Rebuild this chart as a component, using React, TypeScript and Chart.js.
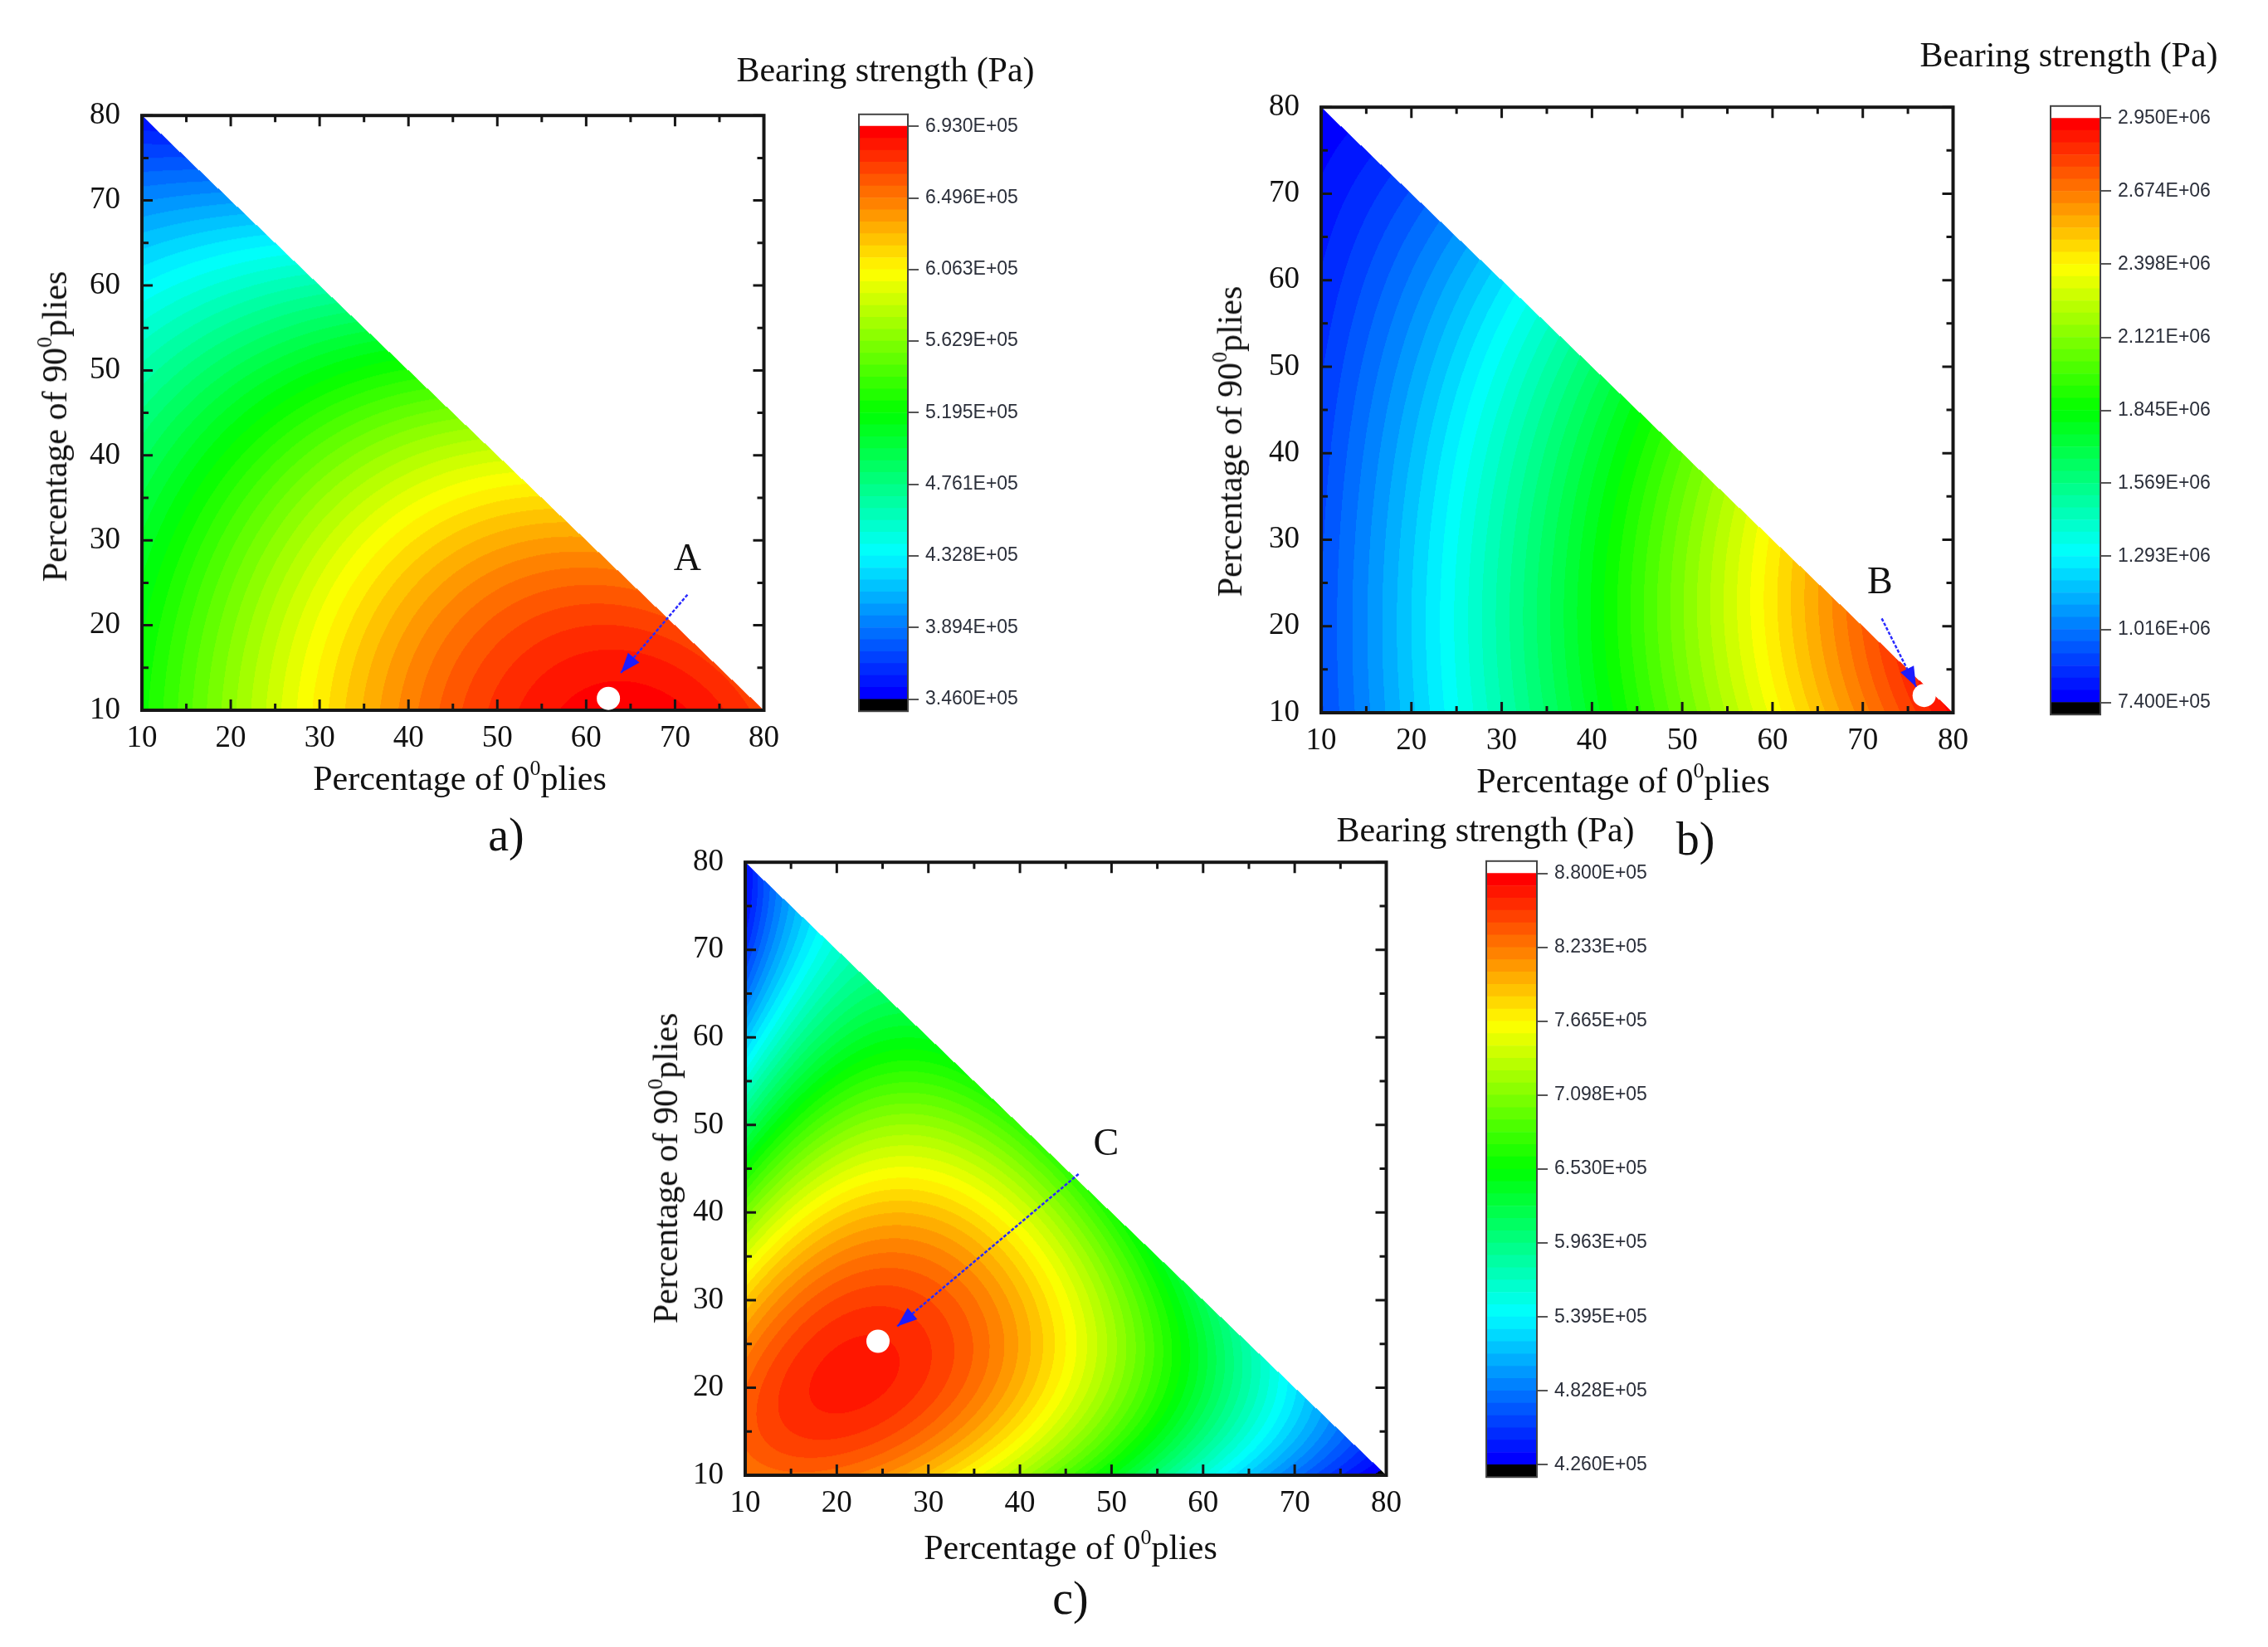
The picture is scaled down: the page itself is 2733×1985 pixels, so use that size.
import React, { useEffect, useRef } from "react";
import { Chart, registerables } from "chart.js";

Chart.register(...registerables);

// ------------------------------------------------------------------ data
const AXIS_TICKS = [10, 20, 30, 40, 50, 60, 70, 80];
const MINOR_TICKS = [15, 25, 35, 45, 55, 65, 75];
// grid on which the bearing strength was read (x: % of 0° plies, y: % of 90° plies)
const GRID_X = [10, 20, 30, 40, 50, 60, 70, 80];
const GRID_Y = [10, 20, 30, 40, 50, 60, 70, 80];

// Bearing strength in units of 1e5 Pa; row j is y = GRID_Y[j], entries are x = GRID_X[0..]
const A_ROWS = [
  [5.26, 5.61, 6.17, 6.48, 6.69, 6.86, 6.83, 6.72],
  [5.2, 5.54, 6.06, 6.41, 6.62, 6.72, 6.62],
  [5.06, 5.37, 5.82, 6.17, 6.37, 6.34],
  [4.92, 5.2, 5.47, 5.75, 5.89],
  [4.71, 4.92, 5.13, 5.26],
  [4.33, 4.5, 4.64],
  [3.91, 4.05],
  [3.53],
];
const B_ROWS = [
  [9.17, 11.6, 15.14, 17.79, 20.22, 23.98, 26.63, 29.28],
  [9.39, 11.71, 15.36, 18.01, 20.66, 24.31, 26.85],
  [9.28, 11.6, 15.14, 18.01, 20.66, 24.53],
  [9.06, 11.16, 14.69, 17.57, 19.78],
  [8.73, 10.6, 13.81, 16.68],
  [8.51, 10.05, 12.26],
  [8.06, 8.95],
  [7.62],
];
const C_ROWS = [
  [8.21, 8.44, 7.8, 7.1, 6.45, 5.68, 4.9, 4.26],
  [8.16, 8.75, 8.53, 7.89, 7.07, 6.17, 5.17],
  [7.89, 8.57, 8.53, 8.03, 7.07, 5.94],
  [7.07, 7.8, 7.98, 7.8, 6.76],
  [5.99, 6.62, 7.07, 7.07],
  [5.26, 5.99, 6.39],
  [4.8, 5.4],
  [4.35],
];

// colour-bar ticks (1e5 Pa) and their printed labels, bottom to top
const A_BAR_VALUES = [3.46, 3.894, 4.328, 4.761, 5.195, 5.629, 6.063, 6.496, 6.93];
const A_BAR_LABELS = ["3.460E+05", "3.894E+05", "4.328E+05", "4.761E+05", "5.195E+05", "5.629E+05", "6.063E+05", "6.496E+05", "6.930E+05"];
const B_BAR_VALUES = [7.4, 10.16, 12.93, 15.69, 18.45, 21.21, 23.98, 26.74, 29.5];
const B_BAR_LABELS = ["7.400E+05", "1.016E+06", "1.293E+06", "1.569E+06", "1.845E+06", "2.121E+06", "2.398E+06", "2.674E+06", "2.950E+06"];
const C_BAR_VALUES = [4.26, 4.828, 5.395, 5.963, 6.53, 7.098, 7.665, 8.233, 8.8];
const C_BAR_LABELS = ["4.260E+05", "4.828E+05", "5.395E+05", "5.963E+05", "6.530E+05", "7.098E+05", "7.665E+05", "8.233E+05", "8.800E+05"];

// optimum markers: [x, y]; arrows: [from, to]; letter positions
const A_DOT = [62.5, 11.4];
const A_ARROW = [[71.4, 23.6], [63.9, 14.4]];
const A_LETTER = [71.4, 27.7];
const B_DOT = [76.8, 12.0];
const B_ARROW = [[72.1, 20.9], [75.9, 13.0]];
const B_LETTER = [71.9, 25.0];
const C_DOT = [24.5, 25.3];
const C_ARROW = [[46.4, 44.4], [26.6, 27.0]];
const C_LETTER = [49.4, 47.7];

const N_LEVELS = 48;

// ------------------------------------------------------------------ helpers
const SERIF = '"Liberation Serif", "Times New Roman", serif';
const SANS = '"Liberation Sans", Arial, sans-serif';

function rainbow(t: number): number[] {
  let r = 0, g = 0, b = 0;
  if (t < 0.25) { r = 0; g = 4 * t; b = 1; }
  else if (t < 0.5) { r = 0; g = 1; b = 1 - 4 * (t - 0.25); }
  else if (t < 0.75) { r = 4 * (t - 0.5); g = 1; b = 0; }
  else { r = 1; g = 1 - 4 * (t - 0.75); b = 0; }
  return [Math.round(r * 255), Math.round(g * 255), Math.round(b * 255)];
}
const PALETTE = Array.from({ length: N_LEVELS }, (_, k) => rainbow(k / (N_LEVELS - 1)));
const cssColor = (c: number[]) => `rgb(${c[0]},${c[1]},${c[2]})`;

function basis(x: number, y: number) {
  const u = (x - 10) / 70, w = (y - 10) / 70;
  return [1, u, w, u * u, u * w, w * w, u * u * u, u * u * w, u * w * w, w * w * w];
}
// cubic response surface through the values read on the grid
function fitSurface(rows: number[][]) {
  const n = 10;
  const M = Array.from({ length: n }, () => new Array(n + 1).fill(0));
  rows.forEach((row, j) =>
    row.forEach((v, i) => {
      const b = basis(GRID_X[i], GRID_Y[j]);
      for (let r = 0; r < n; r++) {
        for (let c = 0; c < n; c++) M[r][c] += b[r] * b[c];
        M[r][n] += b[r] * v;
      }
    })
  );
  for (let c = 0; c < n; c++) {
    let p = c;
    for (let r = c + 1; r < n; r++) if (Math.abs(M[r][c]) > Math.abs(M[p][c])) p = r;
    const tmp = M[c]; M[c] = M[p]; M[p] = tmp;
    for (let r = 0; r < n; r++) {
      if (r === c) continue;
      const f = M[r][c] / M[c][c];
      for (let k = c; k <= n; k++) M[r][k] -= f * M[c][k];
    }
  }
  return M.map((row, i) => row[n] / row[i]);
}
function evalSurface(coef: number[], x: number, y: number) {
  const b = basis(x, y);
  let s = 0;
  for (let i = 0; i < b.length; i++) s += coef[i] * b[i];
  return s;
}

type Rect = { l: number; t: number; r: number; b: number };
type PanelCfg = {
  plot: Rect;
  bar: Rect;
  rows: number[][];
  barValues: number[];
  barLabels: string[];
  dot: number[];
  arrow: number[][];
  letterPos: number[];
  letter: string;
};

const PANELS: PanelCfg[] = [
  { plot: { l: 171, t: 139, r: 920, b: 856 }, bar: { l: 1034, t: 138, r: 1094, b: 857 }, rows: A_ROWS, barValues: A_BAR_VALUES, barLabels: A_BAR_LABELS, dot: A_DOT, arrow: A_ARROW, letterPos: A_LETTER, letter: "A" },
  { plot: { l: 1592, t: 129, r: 2353, b: 859 }, bar: { l: 2470, t: 128, r: 2531, b: 861 }, rows: B_ROWS, barValues: B_BAR_VALUES, barLabels: B_BAR_LABELS, dot: B_DOT, arrow: B_ARROW, letterPos: B_LETTER, letter: "B" },
  { plot: { l: 898, t: 1039, r: 1670, b: 1778 }, bar: { l: 1790, t: 1038, r: 1852, b: 1780 }, rows: C_ROWS, barValues: C_BAR_VALUES, barLabels: C_BAR_LABELS, dot: C_DOT, arrow: C_ARROW, letterPos: C_LETTER, letter: "C" },
];

// Make the chart area of `chart` land exactly on `rect` (page pixels)
function placeChartArea(chart: any, canvas: HTMLCanvasElement, rect: Rect) {
  for (let pass = 0; pass < 2; pass++) {
    const ca = chart.chartArea;
    const w0 = chart.width, h0 = chart.height;
    const padL = ca.left, padT = ca.top, padR = w0 - ca.right, padB = h0 - ca.bottom;
    const nw = Math.round(padL + (rect.r - rect.l) + padR);
    const nh = Math.round(padT + (rect.b - rect.t) + padB);
    canvas.style.left = `${Math.round(rect.l - padL)}px`;
    canvas.style.top = `${Math.round(rect.t - padT)}px`;
    if (nw !== w0 || nh !== h0) chart.resize(nw, nh);
  }
}

const YW = 90;
const XH = 70;
const PAD = 26;

function ContourPanel({ cfg }: { cfg: PanelCfg }) {
  const ref = useRef<HTMLCanvasElement>(null);
  const w = YW + (cfg.plot.r - cfg.plot.l) + PAD;
  const h = PAD + (cfg.plot.b - cfg.plot.t) + XH;
  useEffect(() => {
    const coef = fitSurface(cfg.rows);
    const min = cfg.barValues[0];
    const max = cfg.barValues[cfg.barValues.length - 1];
    const contour = {
      id: "contour",
      beforeDatasetsDraw(chart: any) {
        const { ctx, chartArea: ca, scales } = chart;
        const xs = scales.x, ys = scales.y;
        const W = Math.round(ca.right - ca.left), H = Math.round(ca.bottom - ca.top);
        const off = document.createElement("canvas");
        off.width = W; off.height = H;
        const octx = off.getContext("2d")!;
        const img = octx.createImageData(W, H);
        for (let py = 0; py < H; py++) {
          const y = ys.getValueForPixel(ca.top + py + 0.5);
          for (let px = 0; px < W; px++) {
            const x = xs.getValueForPixel(ca.left + px + 0.5);
            if (x + y > 90) continue;
            const v = evalSurface(coef, x, y);
            const k = Math.floor(((v - min) / (max - min)) * N_LEVELS);
            const c = k < 0 ? [0, 0, 0] : k >= N_LEVELS ? [255, 255, 255] : PALETTE[k];
            const i = (py * W + px) * 4;
            img.data[i] = c[0]; img.data[i + 1] = c[1]; img.data[i + 2] = c[2]; img.data[i + 3] = 255;
          }
        }
        octx.putImageData(img, 0, 0);
        ctx.drawImage(off, ca.left, ca.top);
        // frame and inward ticks
        ctx.save();
        ctx.strokeStyle = "#161616";
        ctx.lineWidth = 3;
        const tick = (v: number, len: number) => {
          const px = xs.getPixelForValue(v), py = ys.getPixelForValue(v);
          ctx.beginPath();
          ctx.moveTo(px, ca.bottom); ctx.lineTo(px, ca.bottom - len);
          ctx.moveTo(px, ca.top); ctx.lineTo(px, ca.top + len);
          ctx.moveTo(ca.left, py); ctx.lineTo(ca.left + len, py);
          ctx.moveTo(ca.right, py); ctx.lineTo(ca.right - len, py);
          ctx.stroke();
        };
        AXIS_TICKS.forEach((v) => tick(v, 13));
        MINOR_TICKS.forEach((v) => tick(v, 8));
        ctx.lineWidth = 4;
        ctx.strokeRect(ca.left, ca.top, ca.right - ca.left, ca.bottom - ca.top);
        ctx.restore();
      },
      afterDatasetsDraw(chart: any) {
        const { ctx, scales } = chart;
        const pts = chart.getDatasetMeta(0).data;
        const p0 = pts[0], p1 = pts[1];
        const ang = Math.atan2(p1.y - p0.y, p1.x - p0.x);
        const L = 24, Wd = 9;
        const bx = p1.x - L * Math.cos(ang), by = p1.y - L * Math.sin(ang);
        ctx.save();
        ctx.fillStyle = "#1c1cff";
        ctx.beginPath();
        ctx.moveTo(p1.x, p1.y);
        ctx.lineTo(bx - Wd * Math.sin(ang), by + Wd * Math.cos(ang));
        ctx.lineTo(bx + Wd * Math.sin(ang), by - Wd * Math.cos(ang));
        ctx.closePath();
        ctx.fill();
        ctx.fillStyle = "#111";
        ctx.font = `46px ${SERIF}`;
        ctx.textAlign = "center";
        ctx.textBaseline = "middle";
        ctx.fillText(cfg.letter, scales.x.getPixelForValue(cfg.letterPos[0]), scales.y.getPixelForValue(cfg.letterPos[1]));
        ctx.restore();
      },
    };
    const axisFont = { family: SERIF, size: 37 };
    const canvas = ref.current!;
    const chart = new Chart(canvas, {
      type: "scatter",
      data: {
        datasets: [
          {
            type: "line",
            data: cfg.arrow.map((p) => ({ x: p[0], y: p[1] })),
            borderColor: "#2a2aff",
            borderWidth: 2.5,
            borderDash: [4, 2],
            pointRadius: 0,
            fill: false,
            clip: false,
          } as any,
          {
            data: [{ x: cfg.dot[0], y: cfg.dot[1] }],
            pointRadius: 14,
            pointBackgroundColor: "#ffffff",
            pointBorderWidth: 0,
            clip: false,
          } as any,
        ],
      },
      options: {
        animation: false,
        responsive: false,
        maintainAspectRatio: false,
        events: [],
        layout: { padding: { top: PAD, right: PAD, left: 0, bottom: 0 } },
        plugins: { legend: { display: false }, tooltip: { enabled: false } },
        scales: {
          x: {
            type: "linear",
            min: 10,
            max: 80,
            grid: { display: false, drawTicks: false },
            border: { display: false },
            ticks: { stepSize: 10, autoSkip: false, maxRotation: 0, minRotation: 0, padding: 12, font: axisFont, color: "#111" },
            afterFit: (s: any) => { s.height = XH; },
          },
          y: {
            type: "linear",
            min: 10,
            max: 80,
            grid: { display: false, drawTicks: false },
            border: { display: false },
            ticks: { stepSize: 10, autoSkip: false, padding: 26, font: axisFont, color: "#111" },
            afterFit: (s: any) => { s.width = YW; },
          },
        },
      } as any,
      plugins: [contour],
    });
    placeChartArea(chart, canvas, cfg.plot);
    return () => chart.destroy();
  }, [cfg]);
  return (
    <canvas
      ref={ref}
      width={w}
      height={h}
      style={{ position: "absolute", left: cfg.plot.l - YW, top: cfg.plot.t - PAD, width: w, height: h }}
    />
  );
}

const BAR_AXIS_W = 190;
const BAR_PAD = 14;

function ColorBar({ cfg }: { cfg: PanelCfg }) {
  const ref = useRef<HTMLCanvasElement>(null);
  const w = cfg.bar.r - cfg.bar.l + BAR_AXIS_W;
  const h = cfg.bar.b - cfg.bar.t + 2 * BAR_PAD;
  useEffect(() => {
    const min = cfg.barValues[0];
    const max = cfg.barValues[cfg.barValues.length - 1];
    const step = (max - min) / N_LEVELS;
    const common = { grouped: false, barPercentage: 1, categoryPercentage: 1, borderWidth: 0 };
    const datasets: any[] = [{ ...common, data: [[min - step, min]], backgroundColor: "#000000" }];
    for (let k = 0; k < N_LEVELS; k++) {
      datasets.push({ ...common, data: [[min + k * step, min + (k + 1) * step]], backgroundColor: cssColor(PALETTE[k]) });
    }
    datasets.push({ ...common, data: [[max, max + step]], backgroundColor: "#ffffff" });
    const frame = {
      id: "frame",
      afterDatasetsDraw(chart: any) {
        const { ctx, chartArea: ca } = chart;
        ctx.save();
        ctx.strokeStyle = "#444";
        ctx.lineWidth = 2;
        ctx.strokeRect(ca.left + 1, ca.top, ca.right - ca.left - 1, ca.bottom - ca.top);
        ctx.restore();
      },
    };
    const canvas = ref.current!;
    const chart = new Chart(canvas, {
      type: "bar",
      data: { labels: [""], datasets },
      options: {
        animation: false,
        responsive: false,
        maintainAspectRatio: false,
        events: [],
        layout: { padding: { top: BAR_PAD, bottom: BAR_PAD, left: 0, right: 0 } },
        plugins: { legend: { display: false }, tooltip: { enabled: false } },
        scales: {
          x: { display: false },
          y: {
            position: "right",
            min: min - step,
            max: max + step,
            afterBuildTicks: (s: any) => { s.ticks = cfg.barValues.map((v) => ({ value: v })); },
            ticks: {
              autoSkip: false,
              callback: (_v: any, i: number) => cfg.barLabels[i],
              font: { family: SANS, size: 23 },
              color: "#2b2f3a",
              padding: 8,
            },
            grid: { display: true, drawOnChartArea: false, drawTicks: true, tickLength: 13, color: "#555", lineWidth: 2 },
            border: { display: false },
            afterFit: (s: any) => { s.width = BAR_AXIS_W; },
          },
        },
      } as any,
      plugins: [frame],
    });
    placeChartArea(chart, canvas, cfg.bar);
    return () => chart.destroy();
  }, [cfg]);
  return (
    <canvas
      ref={ref}
      width={w}
      height={h}
      style={{ position: "absolute", left: cfg.bar.l, top: cfg.bar.t - BAR_PAD, width: w, height: h }}
    />
  );
}

function Text({ x, y, size, rotate, children }: { x: number; y: number; size: number; rotate?: boolean; children: any }) {
  return (
    <div
      style={{
        position: "absolute",
        left: x,
        top: y,
        transform: `translate(-50%, -50%)${rotate ? " rotate(-90deg)" : ""}`,
        fontFamily: SERIF,
        fontSize: size,
        lineHeight: 1,
        whiteSpace: "nowrap",
        color: "#111",
      }}
    >
      {children}
    </div>
  );
}

const sup = (t: string) => (
  <sup style={{ fontSize: "0.62em", verticalAlign: "0.7em", lineHeight: 0 }}>{t}</sup>
);

export default function App() {
  useEffect(() => {
    document.body.style.margin = "0";
  }, []);
  return (
    <div style={{ position: "absolute", left: 0, top: 0, width: 2733, height: 1985, background: "#fff", overflow: "hidden" }}>
      {PANELS.map((p, i) => (
        <React.Fragment key={i}>
          <ContourPanel cfg={p} />
          <ColorBar cfg={p} />
        </React.Fragment>
      ))}
      {/* panel a */}
      <Text x={1067} y={84} size={42}>Bearing strength (Pa)</Text>
      <Text x={554} y={938} size={42}>Percentage of 0{sup("0")}plies</Text>
      <Text x={66} y={514} size={42} rotate>Percentage of 90{sup("0")}plies</Text>
      <Text x={610} y={1006} size={56}>a)</Text>
      {/* panel b */}
      <Text x={2493} y={66} size={42}>Bearing strength (Pa)</Text>
      <Text x={1956} y={941} size={42}>Percentage of 0{sup("0")}plies</Text>
      <Text x={1482} y={532} size={42} rotate>Percentage of 90{sup("0")}plies</Text>
      <Text x={2043} y={1011} size={56}>b)</Text>
      {/* panel c */}
      <Text x={1790} y={1000} size={42}>Bearing strength (Pa)</Text>
      <Text x={1290} y={1865} size={42}>Percentage of 0{sup("0")}plies</Text>
      <Text x={802} y={1408} size={42} rotate>Percentage of 90{sup("0")}plies</Text>
      <Text x={1290} y={1926} size={56}>c)</Text>
    </div>
  );
}
